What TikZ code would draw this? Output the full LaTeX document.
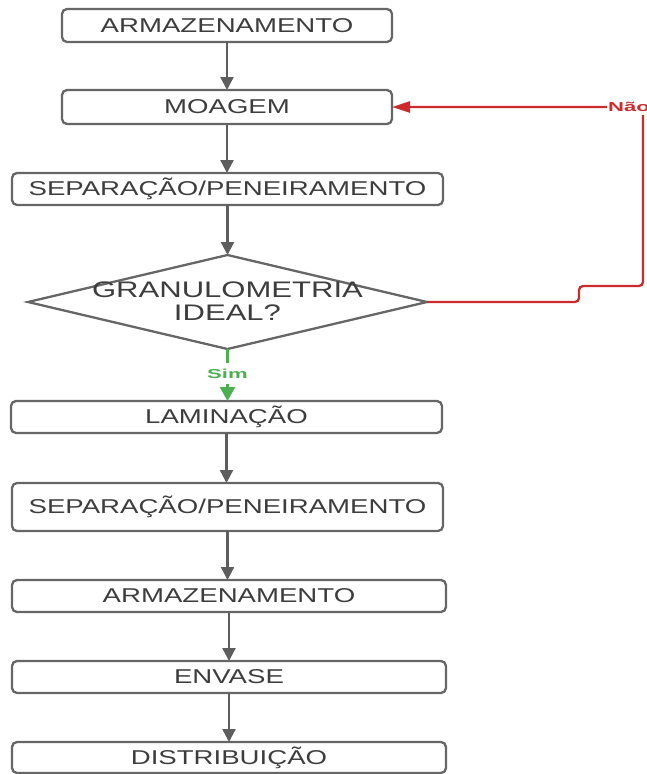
\documentclass[tikz,border=0pt]{standalone}
\usepackage{fontspec}
\usetikzlibrary{arrows.meta,shapes.geometric}
\newfontfamily\flowfont[FakeStretch=1.38]{Liberation Sans}
\newfontfamily\branchfont[FakeStretch=1.7]{Liberation Sans}
\definecolor{boxline}{HTML}{666666}
\definecolor{boxtext}{HTML}{3D3D3D}
\definecolor{flowarrow}{HTML}{5E5E5E}
\definecolor{noline}{HTML}{CC2B2B}
\definecolor{yesline}{HTML}{4CB050}

\begin{document}
\begin{tikzpicture}[x=1pt,y=-1pt,
  stepbox/.style={draw=boxline, line width=2.3pt, rounded corners=5pt, fill=white,
    inner sep=0pt, outer sep=0pt, text=boxtext,
    font=\flowfont\fontsize{20}{24}\selectfont},
  decisionbox/.style={diamond, draw=boxline, line width=2.3pt, fill=white,
    inner sep=0pt, outer sep=0pt},
  decisiontext/.style={text=boxtext, align=center, inner sep=0pt,
    font=\flowfont\fontsize{22.5}{23}\selectfont},
  flow/.style={draw=flowarrow, line width=2.3pt, -{Triangle[width=13pt,length=13pt]}},
  noflow/.style={draw=noline, line width=2.3pt, rounded corners=4pt,
    -{Triangle[width=11pt,length=18pt]}},
  yesflow/.style={draw=yesline, line width=2.3pt, -{Triangle[width=15pt,length=14pt]}},
  branchlabel/.style={fill=white, inner xsep=1pt, inner ysep=6pt,
    font=\branchfont\bfseries\fontsize{13}{15}\selectfont}
]
\useasboundingbox (0,0) rectangle (646,774);

% process steps
\node[stepbox, minimum width=330pt, minimum height=33pt] (arm1) at (227,25.5) {ARMAZENAMENTO};
\node[stepbox, minimum width=330pt, minimum height=34pt] (moa) at (227,107) {MOAGEM};
\node[stepbox, minimum width=431pt, minimum height=32pt] (sep1) at (227.5,189) {SEPARAÇÃO/PENEIRAMENTO};
\node[decisionbox, minimum width=399pt, minimum height=94pt] (dia) at (227.5,302) {};
\node[decisiontext] (diatext) at (227.5,301.5) {GRANULOMETRIA\\IDEAL?};
\node[stepbox, minimum width=431pt, minimum height=32pt] (lam) at (226.5,417) {LAMINAÇÃO};
\node[stepbox, minimum width=431pt, minimum height=48pt] (sep2) at (227.5,507) {SEPARAÇÃO/PENEIRAMENTO};
\node[stepbox, minimum width=434pt, minimum height=32pt] (arm2) at (229,596) {ARMAZENAMENTO};
\node[stepbox, minimum width=434pt, minimum height=32pt] (env) at (229,677) {ENVASE};
\node[stepbox, minimum width=434pt, minimum height=31pt] (dis) at (229,757.5) {DISTRIBUIÇÃO};

% main flow
\draw[flow] (arm1.south) -- (arm1.south |- moa.north);
\draw[flow] (moa.south) -- (moa.south |- sep1.north);
\draw[flow] (sep1.south) -- (sep1.south |- dia.north);
\draw[flow] (lam.south) -- (lam.south |- sep2.north);
\draw[flow] (sep2.south) -- (sep2.south |- arm2.north);
\draw[flow] (arm2.south) -- (arm2.south |- env.north);
\draw[flow] (env.south) -- (env.south |- dis.north);

% decision branches
\draw[yesflow] (dia.south) -- (dia.south |- lam.north)
  node[branchlabel, text=yesline, pos=0.47] (sim) {Sim};

\coordinate (nocorner) at (643,107);
\draw[noflow] (dia.east) -- (579,302) -- (579,286) -- (643,286) -- (nocorner) -- (moa.east);
\node[branchlabel, text=noline, anchor=west, inner ysep=3pt] (nao) at (607,107) {Não};
\end{tikzpicture}
\end{document}
